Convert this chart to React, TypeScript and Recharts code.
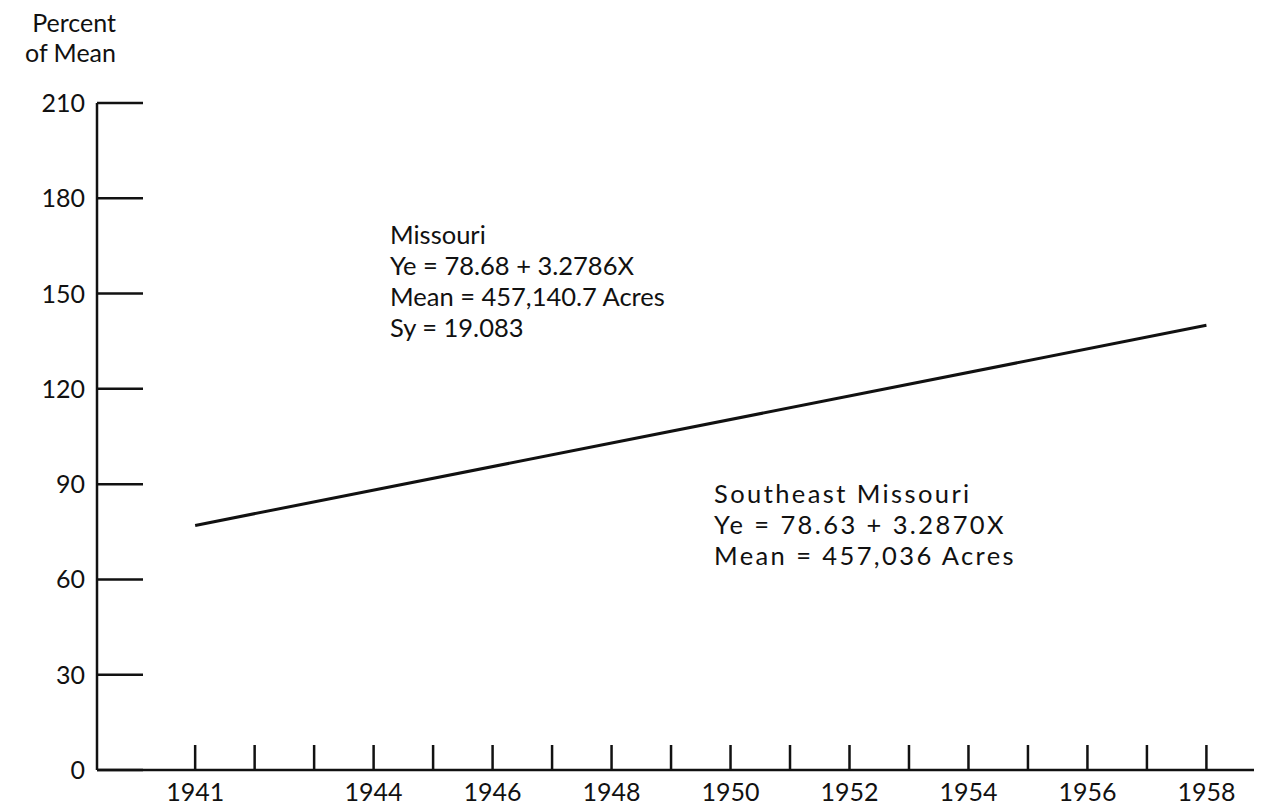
import React from "react";
import { LineChart, Line, XAxis, YAxis } from "recharts";

const YEARS = [1941, 1942, 1943, 1944, 1945, 1946, 1947, 1948, 1949, 1950, 1951, 1952, 1953, 1954, 1955, 1956, 1957, 1958];
const LABELED_YEARS = [1941, 1944, 1946, 1948, 1950, 1952, 1954, 1956, 1958];
const Y_TICKS = [0, 30, 60, 90, 120, 150, 180, 210];

// trend line endpoints, percent of mean
const trend = [
  { year: 1941, pct: 77 },
  { year: 1958, pct: 140 },
];

const FONT = "Lato, 'Open Sans', sans-serif";
const INK = "#111";

function YTick({ x, y, payload }: any) {
  return (
    <g>
      <line x1={x} x2={x + 46} y1={y} y2={y} stroke={INK} strokeWidth={2.5} />
      <text x={x - 12} y={y} dy={9} textAnchor="end" fontSize={25} fontFamily={FONT} fill={INK}>
        {payload.value}
      </text>
    </g>
  );
}

function XTick({ x, y, payload }: any) {
  const show = LABELED_YEARS.includes(payload.value);
  return (
    <g>
      <line x1={x} x2={x} y1={y - 25} y2={y} stroke={INK} strokeWidth={2.5} />
      {show && (
        <text x={x} y={y + 31} textAnchor="middle" fontSize={25} fontFamily={FONT} fill={INK}>
          {payload.value}
        </text>
      )}
    </g>
  );
}

const textStyle: React.CSSProperties = {
  position: "absolute",
  fontFamily: FONT,
  fontSize: 25.5,
  lineHeight: "31px",
  color: INK,
  whiteSpace: "nowrap",
};

export default function App() {
  return (
    <div style={{ position: "relative", width: 1262, height: 811, margin: -8, background: "#fff" }}>
      <LineChart
        width={1262}
        height={811}
        data={trend}
        margin={{ top: 103, right: 8, bottom: 0, left: 0 }}
      >
        <XAxis
          dataKey="year"
          type="number"
          domain={[1939.35, 1958.8]}
          ticks={YEARS}
          interval={0}
          tickSize={0}
          tickMargin={0}
          tick={<XTick />}
          axisLine={{ stroke: INK, strokeWidth: 2.5 }}
          tickLine={false}
          allowDataOverflow
          height={41}
        />
        <YAxis
          type="number"
          domain={[0, 210]}
          ticks={Y_TICKS}
          interval={0}
          tickSize={0}
          tickMargin={0}
          tick={<YTick />}
          axisLine={{ stroke: INK, strokeWidth: 2.5 }}
          tickLine={false}
          width={97}
        />
        <Line
          dataKey="pct"
          stroke={INK}
          strokeWidth={3}
          dot={false}
          isAnimationActive={false}
        />
      </LineChart>

      <div style={{ ...textStyle, right: 1262 - 116, top: 7, lineHeight: "30px", textAlign: "right", fontSize: 25 }}>
        Percent
        <br />
        of Mean
      </div>

      <div style={{ ...textStyle, left: 390, top: 219 }}>
        Missouri
        <br />
        Ye = 78.68 + 3.2786X
        <br />
        Mean = 457,140.7 Acres
        <br />
        Sy = 19.083
      </div>

      <div style={{ ...textStyle, left: 714, top: 478, letterSpacing: 2.4 }}>
        Southeast Missouri
        <br />
        Ye = 78.63 + 3.2870X
        <br />
        Mean = 457,036 Acres
      </div>
    </div>
  );
}
